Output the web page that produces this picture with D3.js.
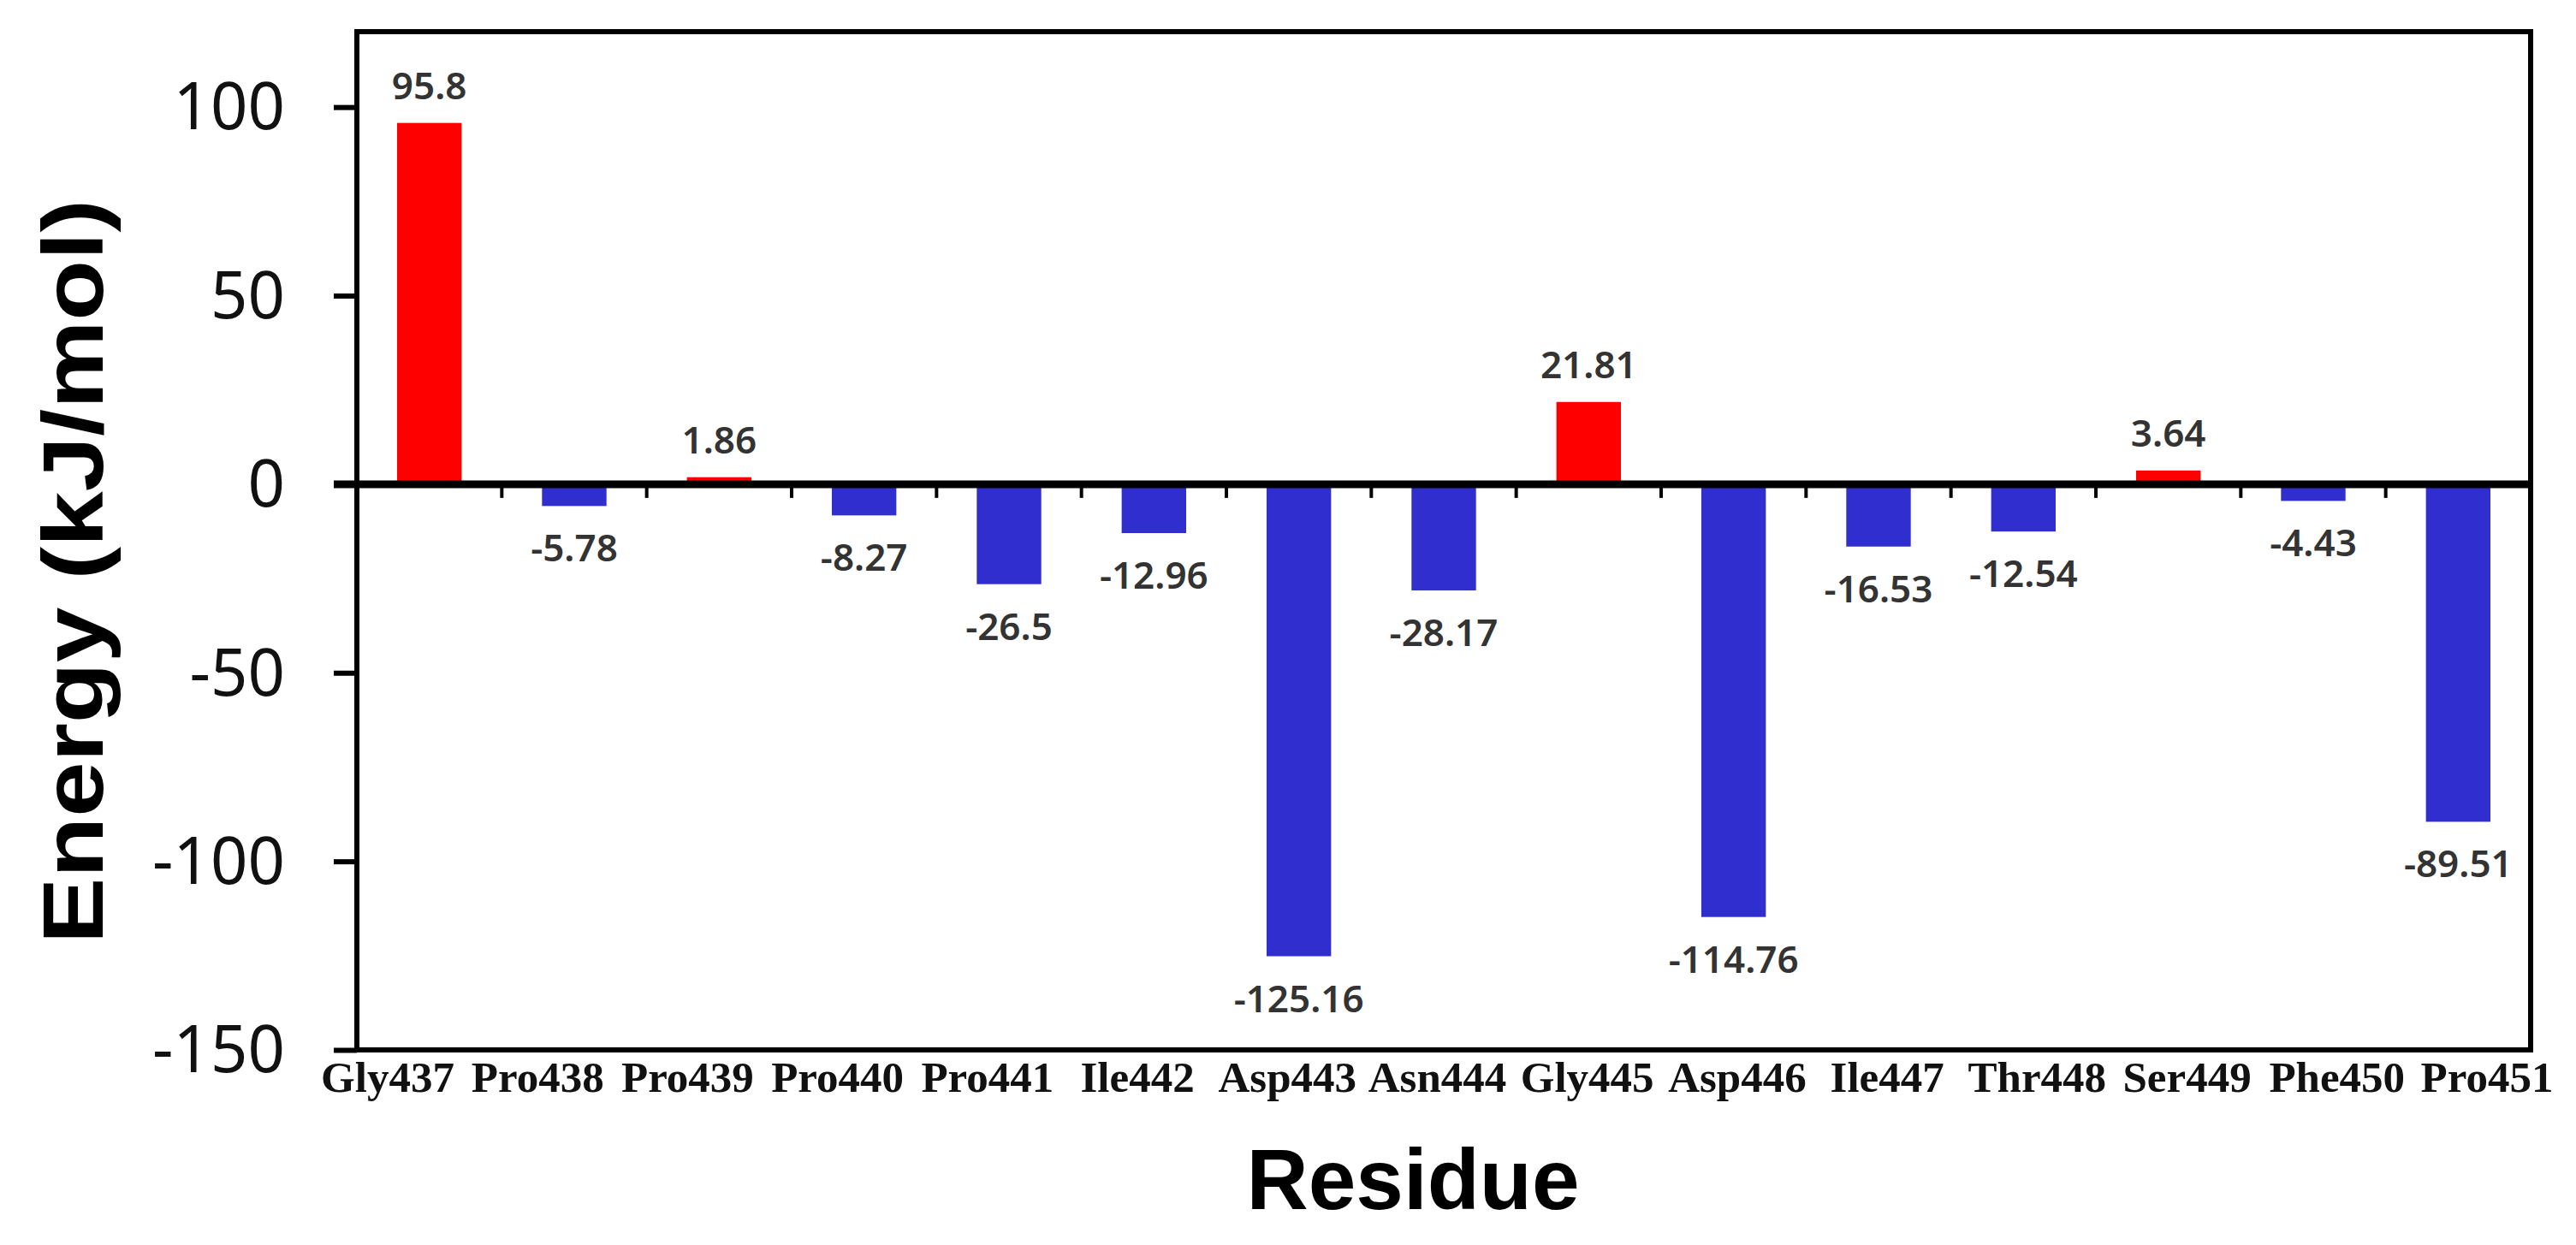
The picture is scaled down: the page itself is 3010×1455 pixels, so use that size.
<!DOCTYPE html>
<html>
<head>
<meta charset="utf-8">
<script src="https://cdn.jsdelivr.net/npm/d3@7/dist/d3.min.js"></script>
<style>
  html, body { margin: 0; padding: 0; background: #ffffff; }
  svg { display: block; }
</style>
</head>
<body>
<script>
// ---- data ----
const residues = ["Gly437", "Pro438", "Pro439", "Pro440", "Pro441", "Ile442", "Asp443", "Asn444",
                  "Gly445", "Asp446", "Ile447", "Thr448", "Ser449", "Phe450", "Pro451"];
const energies = [95.8, -5.78, 1.86, -8.27, -26.5, -12.96, -125.16, -28.17,
                  21.81, -114.76, -16.53, -12.54, 3.64, -4.43, -89.51];
const yTicks = [100, 50, 0, -50, -100, -150];
const yTitle = "Energy (kJ/mol)";
const xTitle = "Residue";

// ---- layout ----
const W = 3010, H = 1455;
const plot = { left: 417, right: 2957, top: 37, bottom: 1227 };

const svg = d3.select("body").append("svg")
  .attr("width", W).attr("height", H)
  .attr("viewBox", `0 0 ${W} ${H}`);

svg.append("rect").attr("width", W).attr("height", H).attr("fill", "#fff");

const x = d3.scaleBand()
  .domain(residues)
  .range([plot.left, plot.right])
  .paddingInner(0.555)
  .paddingOuter(0.2775);

const xl = d3.scalePoint()
  .domain(residues)
  .range([453, 2906]);

const y = d3.scaleLinear()
  .domain([-150, 120])
  .range([plot.bottom, plot.top]);

const data = residues.map((r, i) => ({ r, v: energies[i] }));

// bars
svg.append("g").selectAll("rect")
  .data(data)
  .join("rect")
  .attr("x", d => x(d.r))
  .attr("width", x.bandwidth())
  .attr("y", d => y(Math.max(0, d.v)))
  .attr("height", d => Math.abs(y(d.v) - y(0)))
  .attr("fill", d => d.v >= 0 ? "#ff0000" : "#312ecf");

// frame
svg.append("rect")
  .attr("x", plot.left).attr("y", plot.top)
  .attr("width", plot.right - plot.left)
  .attr("height", plot.bottom - plot.top)
  .attr("fill", "none")
  .attr("stroke", "#000")
  .attr("stroke-width", 6);

// y axis
const yAxis = d3.axisLeft(y).tickValues(yTicks).tickSize(27).tickPadding(57)
  .tickFormat(d => String(d));
const gy = svg.append("g")
  .attr("transform", `translate(${plot.left},0)`)
  .call(yAxis);
gy.select(".domain").remove();
gy.selectAll(".tick line").attr("stroke", "#000").attr("stroke-width", 6);
gy.selectAll(".tick text")
  .attr("font-family", "'Noto Sans', 'Open Sans', sans-serif")
  .attr("font-size", 76)
  .attr("fill", "#111")
  .attr("dy", "0.34em");

// zero line
svg.append("line")
  .attr("x1", plot.left - 27).attr("x2", plot.right)
  .attr("y1", y(0)).attr("y2", y(0))
  .attr("stroke", "#000").attr("stroke-width", 9);

// category boundary ticks on the zero line
const gap = (x.step() - x.bandwidth()) / 2;
svg.append("g").selectAll("line")
  .data(residues.slice(1))
  .join("line")
  .attr("x1", d => x(d) - gap).attr("x2", d => x(d) - gap)
  .attr("y1", y(0)).attr("y2", y(0) + 16)
  .attr("stroke", "#000").attr("stroke-width", 4);

// value labels
svg.append("g").selectAll("text")
  .data(data)
  .join("text")
  .attr("x", d => x(d.r) + x.bandwidth() / 2)
  .attr("y", d => d.v >= 0 ? y(d.v) - 28 : y(d.v) + 65)
  .attr("text-anchor", "middle")
  .attr("font-family", "'Noto Sans', sans-serif")
  .attr("font-weight", 600)
  .attr("font-size", 44)
  .attr("fill", "#333")
  .text(d => String(d.v));

// category labels
svg.append("g").selectAll("text")
  .data(residues)
  .join("text")
  .attr("x", d => xl(d))
  .attr("y", 1276)
  .attr("text-anchor", "middle")
  .attr("font-family", "'Liberation Serif', 'Times New Roman', serif")
  .attr("font-weight", "bold")
  .attr("font-size", 51)
  .attr("fill", "#111")
  .text(d => d);

// axis titles
svg.append("text")
  .attr("x", 1651).attr("y", 1413)
  .attr("text-anchor", "middle")
  .attr("font-family", "'Liberation Sans', Arial, sans-serif")
  .attr("font-weight", "bold")
  .attr("font-size", 100)
  .attr("fill", "#000")
  .text(xTitle);

svg.append("text")
  .attr("transform", "translate(120,668) rotate(-90) scale(1.16,1)")
  .attr("text-anchor", "middle")
  .attr("font-family", "'Liberation Sans', Arial, sans-serif")
  .attr("font-weight", "bold")
  .attr("font-size", 100)
  .attr("fill", "#000")
  .text(yTitle);
</script>
</body>
</html>
